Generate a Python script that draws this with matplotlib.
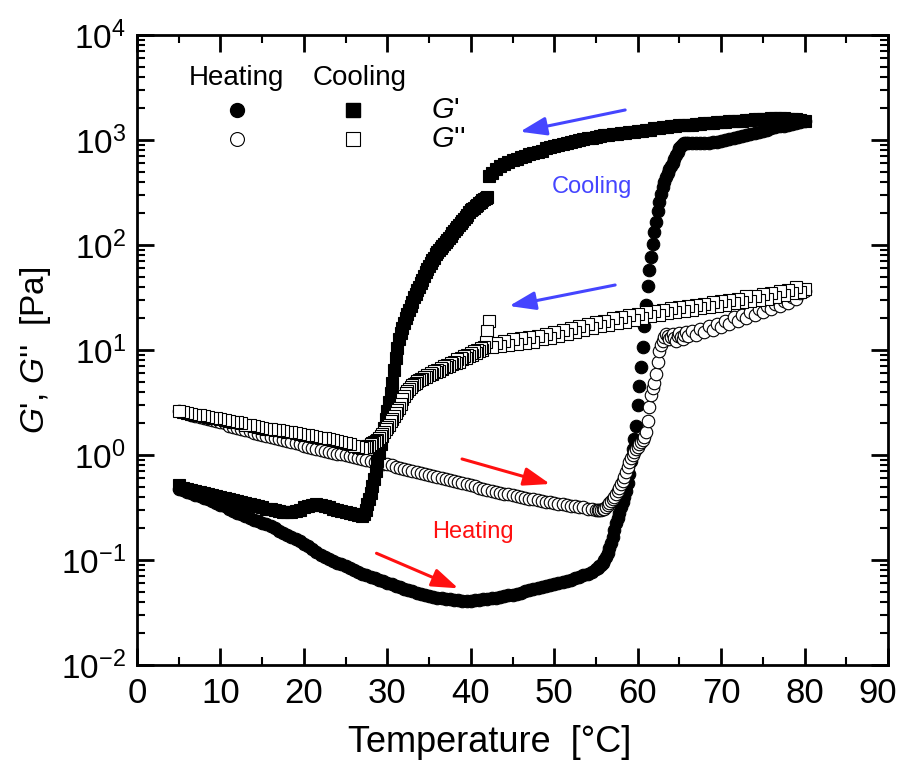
import matplotlib
matplotlib.use("Agg")
import matplotlib.pyplot as plt
from matplotlib.ticker import MultipleLocator, FixedLocator, NullFormatter

plt.rcParams['font.family'] = ['Liberation Sans', 'DejaVu Sans']
plt.rcParams['mathtext.fontset'] = 'custom'
plt.rcParams['mathtext.rm'] = 'Liberation Sans'
plt.rcParams['mathtext.it'] = 'Liberation Sans:italic'
plt.rcParams['mathtext.bf'] = 'Liberation Sans:bold'

# heating run: temperature [C] and log10 of G', G'' [Pa]
temp_heat = [
    5.0, 5.5, 6.0, 6.5, 7.0, 7.5, 8.0, 8.5, 9.0, 9.5,
    10.0, 10.5, 11.0, 11.5, 12.0, 12.5, 13.0, 13.5, 14.0, 14.5,
    15.0, 15.5, 16.0, 16.5, 17.0, 17.5, 18.0, 18.5, 19.0, 19.5,
    20.0, 20.5, 21.0, 21.5, 22.0, 22.5, 23.0, 23.5, 24.0, 24.5,
    25.0, 25.5, 26.0, 26.5, 27.0, 27.5, 28.0, 28.5, 29.0, 29.5,
    30.0, 30.5, 31.0, 31.5, 32.0, 32.5, 33.0, 33.5, 34.0, 34.5,
    35.0, 35.5, 36.0, 36.5, 37.0, 37.5, 38.0, 38.5, 39.0, 39.5,
    40.0, 40.5, 41.0, 41.5, 42.0, 42.5, 43.0, 43.5, 44.0, 44.5,
    45.0, 45.5, 46.0, 46.5, 47.0, 47.5, 48.0, 48.5, 49.0, 49.5,
    50.0, 50.5, 51.0, 51.5, 52.0, 52.5, 53.0, 53.5, 54.0, 54.5,
    55.0,
    55.2, 55.4, 55.6, 55.8, 56.0, 56.2, 56.4, 56.6, 56.8, 57.0,
    57.2, 57.4, 57.6, 57.8, 58.0, 58.2, 58.4, 58.6, 58.8, 59.0,
    59.2, 59.4, 59.6, 59.8, 60.0, 60.2, 60.4, 60.6, 60.8, 61.0,
    61.2, 61.4, 61.6, 61.8, 62.0, 62.2, 62.4, 62.6, 62.8, 63.0,
    63.2, 63.4, 63.6, 63.8, 64.0, 64.2, 64.4, 64.6, 64.8, 65.0,
    65.2, 65.4, 65.6, 65.8, 66.0,
    66.5, 67.0, 67.5, 68.0, 68.5, 69.0, 69.5, 70.0, 70.5, 71.0,
    71.5, 72.0, 72.5, 73.0, 73.5, 74.0, 74.5, 75.0, 75.5, 76.0,
    76.5, 77.0, 77.5, 78.0, 78.5, 79.0, 79.5, 80.0,
]
log_gp_heat = [
    -0.32, -0.33, -0.35, -0.36, -0.38, -0.39, -0.41, -0.42, -0.44, -0.46,
    -0.48, -0.49, -0.51, -0.53, -0.55, -0.56, -0.58, -0.60, -0.62, -0.63,
    -0.65, -0.66, -0.68, -0.70, -0.72, -0.74, -0.76, -0.78, -0.80, -0.82,
    -0.85, -0.87, -0.90, -0.92, -0.95, -0.97, -0.99, -1.01, -1.03, -1.04,
    -1.06, -1.08, -1.10, -1.11, -1.13, -1.14, -1.16, -1.17, -1.19, -1.20,
    -1.22, -1.23, -1.25, -1.26, -1.28, -1.29, -1.30, -1.31, -1.32, -1.33,
    -1.34, -1.35, -1.36, -1.36, -1.37, -1.37, -1.38, -1.38, -1.39, -1.39,
    -1.39, -1.38, -1.38, -1.37, -1.37, -1.36, -1.36, -1.35, -1.34, -1.33,
    -1.33, -1.32, -1.31, -1.30, -1.29, -1.28, -1.27, -1.26, -1.25, -1.24,
    -1.23, -1.22, -1.21, -1.20, -1.19, -1.17, -1.16, -1.14, -1.13, -1.11,
    -1.09,
    -1.08, -1.06, -1.05, -1.03, -1.00, -0.97, -0.93, -0.89, -0.84, -0.78,
    -0.71, -0.65, -0.60, -0.55, -0.50, -0.45, -0.40, -0.34, -0.27, -0.18,
    -0.06, 0.06, 0.15, 0.28, 0.48, 0.66, 0.84, 1.03, 1.23, 1.43,
    1.61, 1.76, 1.89, 2.01, 2.12, 2.22, 2.32, 2.41, 2.49, 2.55,
    2.60, 2.65, 2.69, 2.72, 2.75, 2.78, 2.82, 2.86, 2.89, 2.92,
    2.94, 2.96, 2.97, 2.97, 2.97,
    2.97, 2.97, 2.97, 2.97, 2.97, 2.98, 2.98, 2.99, 3.00, 3.01,
    3.02, 3.03, 3.04, 3.05, 3.06, 3.07, 3.08, 3.09, 3.10, 3.11,
    3.12, 3.13, 3.135, 3.14, 3.15, 3.16, 3.17, 3.18,
]
log_gpp_heat = [
    0.42, 0.41, 0.40, 0.38, 0.37, 0.36, 0.35, 0.34, 0.33, 0.32,
    0.31, 0.30, 0.28, 0.27, 0.26, 0.25, 0.24, 0.23, 0.21, 0.20,
    0.19, 0.18, 0.17, 0.16, 0.15, 0.14, 0.13, 0.12, 0.11, 0.10,
    0.09, 0.08, 0.07, 0.06, 0.05, 0.04, 0.03, 0.02, 0.01, 0.01,
    0.00, -0.01, -0.02, -0.03, -0.04, -0.05, -0.06, -0.07, -0.08, -0.09,
    -0.09, -0.10, -0.11, -0.12, -0.13, -0.14, -0.15, -0.16, -0.17, -0.18,
    -0.19, -0.20, -0.21, -0.22, -0.23, -0.24, -0.25, -0.26, -0.27, -0.28,
    -0.29, -0.30, -0.31, -0.32, -0.33, -0.34, -0.35, -0.36, -0.37, -0.37,
    -0.38, -0.39, -0.40, -0.41, -0.42, -0.42, -0.43, -0.44, -0.45, -0.45,
    -0.46, -0.47, -0.47, -0.48, -0.49, -0.49, -0.50, -0.50, -0.51, -0.51,
    -0.52,
    -0.52, -0.52, -0.52, -0.51, -0.51, -0.50, -0.48, -0.46, -0.44, -0.42,
    -0.40, -0.37, -0.34, -0.31, -0.28, -0.25, -0.21, -0.16, -0.11, -0.07,
    -0.03, 0.00, 0.03, 0.06, 0.08, 0.10, 0.12, 0.14, 0.17, 0.22,
    0.32, 0.46, 0.57, 0.64, 0.69, 0.77, 0.89, 0.99, 1.05, 1.09,
    1.12, 1.15, 1.13, 1.10, 1.12, 1.15, 1.11, 1.09, 1.13, 1.16,
    1.12, 1.10, 1.14, 1.17, 1.13,
    1.18, 1.14, 1.20, 1.17, 1.23, 1.19, 1.25, 1.22, 1.28, 1.25,
    1.31, 1.28, 1.33, 1.30, 1.36, 1.33, 1.39, 1.36, 1.42, 1.39,
    1.44, 1.42, 1.47, 1.45, 1.50, 1.49, 1.54, 1.56,
]

# cooling run (80 -> 5 C), same units
temp_cool = [
    80.0, 79.5, 79.0, 78.5, 78.0, 77.5, 77.0, 76.5, 76.0, 75.5,
    75.0, 74.5, 74.0, 73.5, 73.0, 72.5, 72.0, 71.5, 71.0, 70.5,
    70.0, 69.5, 69.0, 68.5, 68.0, 67.5, 67.0, 66.5, 66.0, 65.5,
    65.0, 64.5, 64.0, 63.5, 63.0, 62.5, 62.0, 61.5, 61.0, 60.5,
    60.0, 59.5, 59.0, 58.5, 58.0, 57.5, 57.0, 56.5, 56.0, 55.5,
    55.0, 54.5, 54.0, 53.5, 53.0, 52.5, 52.0, 51.5, 51.0, 50.5,
    50.0, 49.5, 49.0, 48.5, 48.0, 47.5, 47.0, 46.5, 46.0, 45.5,
    45.0, 44.5, 44.0, 43.5, 43.0, 42.5,
    42.2, 42.0, 41.8,
    41.6, 41.4, 41.2, 41.0, 40.8, 40.6, 40.4, 40.2, 40.0, 39.8,
    39.6, 39.4, 39.2, 39.0, 38.8, 38.6, 38.4, 38.2, 38.0, 37.8,
    37.6, 37.4, 37.2, 37.0, 36.8, 36.6, 36.4, 36.2, 36.0, 35.8,
    35.6, 35.4, 35.2, 35.0, 34.8, 34.6, 34.4, 34.2, 34.0, 33.8,
    33.6, 33.4, 33.2, 33.0, 32.8, 32.6, 32.4, 32.2, 32.0, 31.8,
    31.6, 31.4, 31.2, 31.0, 30.8, 30.6, 30.4, 30.2, 30.0, 29.8,
    29.6, 29.4, 29.2, 29.0, 28.8, 28.6, 28.4, 28.2, 28.0, 27.8,
    27.6, 27.4, 27.2, 27.0,
    26.5, 26.0, 25.5, 25.0, 24.5, 24.0, 23.5, 23.0, 22.5, 22.0,
    21.5, 21.0, 20.5, 20.0, 19.5, 19.0, 18.5, 18.0, 17.5, 17.0,
    16.5, 16.0, 15.5, 15.0, 14.5, 14.0, 13.5, 13.0, 12.5, 12.0,
    11.5, 11.0, 10.5, 10.0, 9.5, 9.0, 8.5, 8.0, 7.5, 7.0,
    6.5, 6.0, 5.5, 5.0,
]
log_gp_cool = [
    3.18, 3.19, 3.20, 3.20, 3.20, 3.21, 3.21, 3.21, 3.21, 3.20,
    3.20, 3.20, 3.20, 3.19, 3.19, 3.18, 3.18, 3.18, 3.18, 3.17,
    3.17, 3.17, 3.16, 3.16, 3.16, 3.15, 3.15, 3.14, 3.14, 3.14,
    3.14, 3.13, 3.13, 3.12, 3.12, 3.11, 3.11, 3.10, 3.10, 3.09,
    3.09, 3.08, 3.08, 3.07, 3.07, 3.06, 3.06, 3.05, 3.05, 3.04,
    3.03, 3.02, 3.02, 3.01, 3.00, 2.99, 2.98, 2.97, 2.96, 2.95,
    2.94, 2.93, 2.92, 2.90, 2.89, 2.88, 2.87, 2.85, 2.84, 2.82,
    2.81, 2.79, 2.77, 2.75, 2.72, 2.69,
    2.66, 2.46, 2.45,
    2.44, 2.43, 2.41, 2.40, 2.38, 2.37, 2.35, 2.34, 2.33, 2.31,
    2.29, 2.27, 2.25, 2.23, 2.21, 2.19, 2.17, 2.15, 2.13, 2.11,
    2.09, 2.07, 2.05, 2.03, 2.01, 1.99, 1.97, 1.95, 1.93, 1.91,
    1.88, 1.86, 1.83, 1.80, 1.77, 1.74, 1.70, 1.67, 1.64, 1.60,
    1.57, 1.53, 1.50, 1.46, 1.42, 1.38, 1.34, 1.30, 1.26, 1.21,
    1.16, 1.10, 1.02, 0.92, 0.81, 0.69, 0.59, 0.50, 0.42, 0.34,
    0.26, 0.18, 0.10, 0.02, -0.06, -0.15, -0.23, -0.30, -0.36, -0.42,
    -0.47, -0.52, -0.56, -0.58,
    -0.57, -0.56, -0.55, -0.54, -0.53, -0.52, -0.51, -0.50, -0.49, -0.48,
    -0.47, -0.48, -0.49, -0.50, -0.52, -0.53, -0.54, -0.54, -0.54, -0.53,
    -0.52, -0.51, -0.51, -0.50, -0.49, -0.48, -0.47, -0.46, -0.45, -0.44,
    -0.43, -0.42, -0.41, -0.40, -0.39, -0.38, -0.37, -0.36, -0.35, -0.34,
    -0.33, -0.32, -0.31, -0.29,
]
log_gpp_cool = [
    1.58, 1.55, 1.60, 1.54, 1.57, 1.52, 1.56, 1.50, 1.54, 1.49,
    1.53, 1.48, 1.51, 1.47, 1.51, 1.46, 1.49, 1.45, 1.48, 1.43,
    1.47, 1.42, 1.46, 1.41, 1.44, 1.40, 1.43, 1.38, 1.42, 1.37,
    1.41, 1.36, 1.40, 1.35, 1.38, 1.33, 1.37, 1.32, 1.36, 1.30,
    1.34, 1.29, 1.33, 1.27, 1.31, 1.26, 1.30, 1.24, 1.28, 1.23,
    1.27, 1.21, 1.25, 1.19, 1.23, 1.17, 1.21, 1.15, 1.19, 1.13,
    1.17, 1.11, 1.15, 1.10, 1.13, 1.08, 1.12, 1.07, 1.11, 1.06,
    1.10, 1.05, 1.09, 1.04, 1.07, 1.03,
    1.28, 1.18, 1.08,
    1.03, 1.00, 1.02, 0.99, 1.00, 0.97, 0.99, 0.95, 0.97, 0.94,
    0.95, 0.92, 0.94, 0.91, 0.92, 0.89, 0.91, 0.88, 0.89, 0.87,
    0.88, 0.85, 0.86, 0.84, 0.85, 0.82, 0.83, 0.80, 0.81, 0.79,
    0.80, 0.77, 0.78, 0.76, 0.76, 0.74, 0.74, 0.72, 0.72, 0.71,
    0.70, 0.69, 0.68, 0.67, 0.65, 0.63, 0.61, 0.59, 0.56, 0.53,
    0.49, 0.45, 0.43, 0.40, 0.37, 0.34, 0.32, 0.29, 0.27, 0.25,
    0.22, 0.20, 0.18, 0.16, 0.14, 0.13, 0.12, 0.11, 0.10, 0.09,
    0.085, 0.08, 0.075, 0.07,
    0.08, 0.09, 0.10, 0.11, 0.12, 0.13, 0.14, 0.15, 0.16, 0.165,
    0.17, 0.18, 0.19, 0.195, 0.20, 0.21, 0.215, 0.22, 0.23, 0.235,
    0.24, 0.245, 0.25, 0.26, 0.27, 0.28, 0.285, 0.29, 0.30, 0.31,
    0.315, 0.32, 0.33, 0.34, 0.35, 0.355, 0.36, 0.37, 0.38, 0.385,
    0.39, 0.40, 0.41, 0.42,
]

x_ticks = [0, 10, 20, 30, 40, 50, 60, 70, 80, 90]
y_exponents = [-2, -1, 0, 1, 2, 3, 4]

gp_heat = [10 ** v for v in log_gp_heat]
gpp_heat = [10 ** v for v in log_gpp_heat]
gp_cool = [10 ** v for v in log_gp_cool]
gpp_cool = [10 ** v for v in log_gpp_cool]


def main():
    fig = plt.figure(figsize=(8.99, 7.71), dpi=100)
    ax = fig.add_axes([0.1524, 0.1375, 0.8354, 0.8171])

    ms = 9
    ax.plot(temp_heat, gp_heat, 'o', ms=ms, mfc='black', mec='black', mew=0.8)
    ax.plot(temp_heat, gpp_heat, 'o', ms=ms, mfc='white', mec='black', mew=0.8)
    ax.plot(temp_cool, gp_cool, 's', ms=ms, mfc='black', mec='black', mew=0.8)
    ax.plot(temp_cool, gpp_cool, 's', ms=ms, mfc='white', mec='black', mew=0.8)

    ax.set_yscale('log')
    ax.set_xlim(0, 90)
    ax.set_ylim(1e-2, 1e4)
    # the "90" label is drawn by hand below so it can sit a bit left of its tick
    ax.set_xticks(x_ticks, [str(t) for t in x_ticks[:-1]] + [''])
    ax.xaxis.set_minor_locator(MultipleLocator(5))
    ax.set_yticks([10.0 ** e for e in y_exponents],
                  ['$\\mathdefault{10^{%d}}$' % e for e in y_exponents])
    minor_y = [m * 10.0 ** e for e in y_exponents[:-1] for m in range(2, 10)]
    ax.yaxis.set_minor_locator(FixedLocator(minor_y))
    ax.yaxis.set_minor_formatter(NullFormatter())

    ax.tick_params(which='both', direction='in', top=True, right=True)
    ax.tick_params(which='major', length=12, width=2)
    ax.tick_params(which='minor', length=6, width=1.5)
    ax.tick_params(axis='x', labelsize=25, pad=9)
    ax.tick_params(axis='y', labelsize=24, pad=8)
    for sp in ax.spines.values():
        sp.set_linewidth(2)
    ax.annotate(str(x_ticks[-1]), xy=(x_ticks[-1], 0), xycoords=('data', 'axes fraction'),
                xytext=(-7.5, -9), textcoords='offset points', fontsize=25, ha='center', va='top')

    ax.set_xlabel('Temperature  [\u00b0C]', fontsize=26)
    ax.xaxis.set_label_coords(0.469, -0.096)
    ax.set_ylabel("$\\mathit{G}$', $\\mathit{G}$''  [Pa]", fontsize=24)
    ax.yaxis.set_label_coords(-0.135, 0.5)
    ax.yaxis.label.set_va('center')

    # hand-made legend
    tr = ax.transAxes
    ax.text(0.132, 0.932, 'Heating', transform=tr, fontsize=20, ha='center', va='center')
    ax.text(0.297, 0.932, 'Cooling', transform=tr, fontsize=20, ha='center', va='center')
    ax.plot([0.1332], [0.881], 'o', ms=ms + 1, mfc='black', mec='black', transform=tr, clip_on=False)
    ax.plot([0.2876], [0.881], 's', ms=ms + 1, mfc='black', mec='black', transform=tr, clip_on=False)
    ax.plot([0.1332], [0.835], 'o', ms=ms + 1, mfc='white', mec='black', mew=0.8, transform=tr, clip_on=False)
    ax.plot([0.2876], [0.835], 's', ms=ms + 1, mfc='white', mec='black', mew=0.8, transform=tr, clip_on=False)
    ax.text(0.392, 0.881, "$\\mathit{G}$'", transform=tr, fontsize=21, ha='left', va='center')
    ax.text(0.392, 0.835, "$\\mathit{G}$''", transform=tr, fontsize=21, ha='left', va='center')

    # direction arrows and labels
    blue = '#4545ff'
    red = '#ff1010'
    astyle = '-|>,head_length=0.8,head_width=0.28'
    ax.annotate('', xy=(45.9, 10 ** 3.079), xytext=(58.5, 10 ** 3.286),
                arrowprops=dict(arrowstyle=astyle, color=blue, lw=2.2, mutation_scale=20, shrinkA=0, shrinkB=0))
    ax.annotate('', xy=(44.6, 10 ** 1.419), xytext=(57.3, 10 ** 1.619),
                arrowprops=dict(arrowstyle=astyle, color=blue, lw=2.2, mutation_scale=20, shrinkA=0, shrinkB=0))
    ax.annotate('', xy=(49.5, 10 ** -0.276), xytext=(38.95, 10 ** -0.038),
                arrowprops=dict(arrowstyle=astyle, color=red, lw=2.2, mutation_scale=20, shrinkA=0, shrinkB=0))
    ax.annotate('', xy=(38.5, 10 ** -1.27), xytext=(28.7, 10 ** -0.936),
                arrowprops=dict(arrowstyle=astyle, color=red, lw=2.2, mutation_scale=20, shrinkA=0, shrinkB=0))
    ax.text(54.5, 10 ** 2.552, 'Cooling', color=blue, fontsize=17, ha='center', va='center')
    ax.text(40.2, 10 ** -0.733, 'Heating', color=red, fontsize=17, ha='center', va='center')

    fig.savefig('out.png', dpi=100)


if __name__ == '__main__':
    main()
